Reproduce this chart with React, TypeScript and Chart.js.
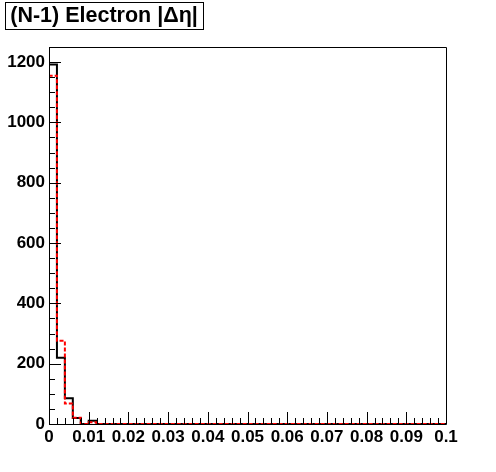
import React, { useEffect, useRef } from "react";
import { Chart, registerables } from "chart.js";

Chart.register(...registerables);

const TITLE = "(N-1) Electron |\u0394\u03b7|";
const BIN_WIDTH = 0.002;
const X_MIN = 0;
const X_MAX = 0.1;
const Y_MIN = 0;
const Y_MAX = 1250;

const xTickValues = [0, 0.01, 0.02, 0.03, 0.04, 0.05, 0.06, 0.07, 0.08, 0.09, 0.1];
const xTickLabels = ["0", "0.01", "0.02", "0.03", "0.04", "0.05", "0.06", "0.07", "0.08", "0.09", "0.1"];
const yTickValues = [0, 200, 400, 600, 800, 1000, 1200];
const yTickLabels = ["0", "200", "400", "600", "800", "1000", "1200"];

// 50 bins of width 0.002 from 0 to 0.1
const blackCounts = [
  1192, 220, 85, 20, 0, 11, 0, 0, 0, 0,
  0, 0, 0, 0, 0, 0, 0, 0, 0, 0,
  0, 0, 0, 0, 0, 0, 0, 0, 0, 0,
  0, 0, 0, 0, 0, 0, 0, 0, 0, 0,
  0, 0, 0, 0, 0, 0, 0, 0, 0, 0,
];
const redCounts = [
  1155, 276, 68, 21, 0, 6, 0, 0, 0, 0,
  0, 0, 0, 0, 0, 0, 0, 0, 0, 0,
  0, 0, 0, 0, 0, 0, 0, 0, 0, 0,
  0, 0, 0, 0, 0, 0, 0, 0, 0, 0,
  0, 0, 0, 0, 0, 0, 0, 0, 0, 0,
];

// Points at bin edges: value of bin i held from edge i to edge i+1
function stepPoints(counts: number[]) {
  const pts: { x: number; y: number }[] = [{ x: X_MIN, y: 0 }, { x: X_MIN, y: counts[0] }];
  counts.forEach((c, i) => {
    pts.push({ x: X_MIN + (i + 1) * BIN_WIDTH, y: c });
    if (i + 1 < counts.length) pts.push({ x: X_MIN + (i + 1) * BIN_WIDTH, y: counts[i + 1] });
  });
  pts.push({ x: X_MIN + counts.length * BIN_WIDTH, y: 0 });
  return pts;
}

const FONT = "'Liberation Sans', Arial, Helvetica, sans-serif";

const framePlugin = {
  id: "rootFrame",
  afterDraw(chart: any) {
    const { ctx, chartArea } = chart;
    const xs = chart.scales.x;
    const ys = chart.scales.y;
    const { left, right, top, bottom } = chartArea;
    ctx.save();
    ctx.strokeStyle = "#000";
    ctx.lineWidth = 1;
    ctx.beginPath();
    ctx.rect(Math.round(left) + 0.5, Math.round(top) + 0.5, Math.round(right - left), Math.round(bottom - top));
    ctx.stroke();
    // x ticks
    ctx.beginPath();
    const nx = Math.round((X_MAX - X_MIN) / BIN_WIDTH);
    for (let i = 0; i <= nx; i++) {
      const v = X_MIN + i * BIN_WIDTH;
      const px = Math.round(xs.getPixelForValue(v)) + 0.5;
      const len = i % 5 === 0 ? 12 : 6;
      ctx.moveTo(px, bottom);
      ctx.lineTo(px, bottom - len);
    }
    // y ticks
    for (let v = Y_MIN; v <= Y_MAX; v += 50) {
      const py = Math.round(ys.getPixelForValue(v)) + 0.5;
      const len = v % 200 === 0 ? 12 : 6;
      ctx.moveTo(left, py);
      ctx.lineTo(left + len, py);
    }
    ctx.stroke();
    // title box
    ctx.fillStyle = "#fff";
    ctx.fillRect(5, 2, 198, 27);
    ctx.strokeRect(5.5, 2.5, 198, 27);
    ctx.fillStyle = "#000";
    ctx.font = `bold 21.5px ${FONT}`;
    ctx.textAlign = "center";
    ctx.textBaseline = "middle";
    ctx.fillText(TITLE, 104, 16);
    ctx.restore();
  },
};

export default function App() {
  const ref = useRef<HTMLCanvasElement | null>(null);
  useEffect(() => {
    if (!ref.current) return;
    const chart = new Chart(ref.current, {
      type: "line",
      data: {
        datasets: [
          {
            label: "red",
            data: stepPoints(redCounts),
            borderColor: "#ff0000",
            borderWidth: 2,
            borderDash: [4, 2],
            pointRadius: 0,
            fill: false,
            order: 0,
          },
          {
            label: "black",
            data: stepPoints(blackCounts),
            borderColor: "#000000",
            borderWidth: 2,
            pointRadius: 0,
            fill: false,
            order: 1,
          },
        ],
      },
      options: {
        animation: false,
        responsive: false,
        maintainAspectRatio: false,
        layout: { padding: { left: 0, top: 47, right: 50, bottom: 0 } },
        plugins: { legend: { display: false }, tooltip: { enabled: false }, title: { display: false } },
        scales: {
          x: {
            type: "linear",
            min: X_MIN,
            max: X_MAX,
            border: { display: false },
            grid: { display: false, drawTicks: false },
            afterBuildTicks: (scale: any) => {
              scale.ticks = xTickValues.map((v) => ({ value: v }));
            },
            afterFit: (scale: any) => {
              scale.height = 48;
            },
            ticks: {
              autoSkip: false,
              maxRotation: 0,
              padding: 3,
              color: "#000",
              font: { family: FONT, size: 17, weight: "bold" },
              callback: (_v: any, i: number) => xTickLabels[i],
            },
          },
          y: {
            type: "linear",
            min: Y_MIN,
            max: Y_MAX,
            border: { display: false },
            grid: { display: false, drawTicks: false },
            afterBuildTicks: (scale: any) => {
              scale.ticks = yTickValues.map((v) => ({ value: v }));
            },
            afterFit: (scale: any) => {
              scale.width = 49;
            },
            ticks: {
              autoSkip: false,
              padding: 4,
              color: "#000",
              font: { family: FONT, size: 17, weight: "bold" },
              callback: (_v: any, i: number) => yTickLabels[i],
            },
          },
        },
      } as any,
      plugins: [framePlugin],
    });
    return () => chart.destroy();
  }, []);
  return (
    <div style={{ position: "fixed", left: 0, top: 0, width: 496, height: 472, background: "#fff" }}>
      <canvas ref={ref} width={496} height={472} style={{ width: 496, height: 472, display: "block" }} />
    </div>
  );
}
